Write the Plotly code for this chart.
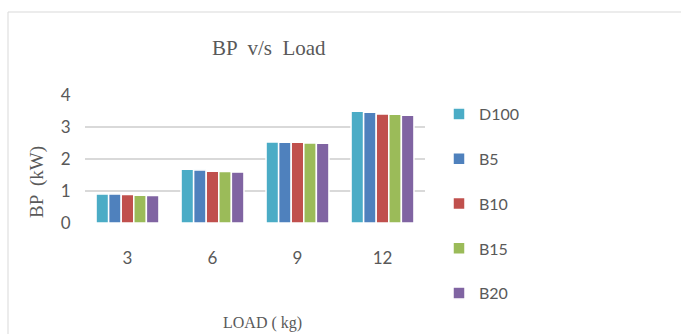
import plotly.graph_objects as go

loads = ["3", "6", "9", "12"]
series_names = ["D100", "B5", "B10", "B15", "B20"]
d100 = [0.91, 1.68, 2.53, 3.49]
b5 = [0.91, 1.66, 2.52, 3.46]
b10 = [0.89, 1.62, 2.52, 3.41]
b15 = [0.87, 1.61, 2.50, 3.40]
b20 = [0.86, 1.59, 2.49, 3.37]
colors = ["#4BACC6", "#4F81BD", "#C0504D", "#9BBB59", "#8064A2"]

W, H = 681, 334
L, R, T, B = 85, 425, 95, 223

fig = go.Figure()
for name, vals, col in zip(series_names, [d100, b5, b10, b15, b20], colors):
    fig.add_trace(go.Bar(x=loads, y=vals, name=name, legendgroup=name,
                         marker=dict(color=col, line=dict(color="white", width=1.5))))

def px_x(p):
    return (p - L) / (R - L)

def px_y(p):
    return (B - p) / (B - T)

fig.update_layout(
    width=W, height=H,
    margin=dict(l=L, r=W - R, t=T, b=H - B),
    paper_bgcolor="white", plot_bgcolor="white",
    barmode="group", bargap=0.26, bargroupgap=0.0,
    showlegend=True,
    legend=dict(x=px_x(439), y=px_y(97), xanchor="left", yanchor="top",
                font=dict(family="Lato", size=16, color="#595959"),
                tracegroupgap=21, itemwidth=30, bgcolor="rgba(0,0,0,0)",
                maxheight=334),
    xaxis=dict(type="category", showgrid=False, showline=False, zeroline=False,
               ticks="outside", ticklen=20, tickcolor="rgba(0,0,0,0)",
               tickfont=dict(family="Lato", size=17, color="#595959")),
    yaxis=dict(range=[0, 4], dtick=1, showgrid=True, gridcolor="#D9D9D9", gridwidth=1.5,
               zeroline=False, showline=False,
               ticks="outside", ticklen=10, tickcolor="rgba(0,0,0,0)",
               tickfont=dict(family="Lato", size=17, color="#595959")),
    shapes=[dict(type="rect", xref="paper", yref="paper",
                 x0=px_x(8), x1=px_x(700), y0=px_y(350), y1=px_y(12),
                 line=dict(color="#D9D9D9", width=1), fillcolor="rgba(0,0,0,0)", layer="below")],
    annotations=[
        dict(text="BP  v/s  Load", xref="paper", yref="paper", x=px_x(269), y=px_y(48),
             xanchor="center", yanchor="middle", showarrow=False,
             font=dict(family="Liberation Serif", size=21, color="#595959")),
        dict(text="BP  (kW)", xref="paper", yref="paper", x=px_x(37), y=px_y(182),
             xanchor="center", yanchor="middle", showarrow=False, textangle=-90,
             font=dict(family="Liberation Serif", size=19, color="#595959")),
        dict(text="LOAD ( kg)", xref="paper", yref="paper", x=px_x(262), y=px_y(323),
             xanchor="center", yanchor="middle", showarrow=False,
             font=dict(family="Liberation Serif", size=16, color="#595959")),
    ],
)

fig.write_html("out.html")
